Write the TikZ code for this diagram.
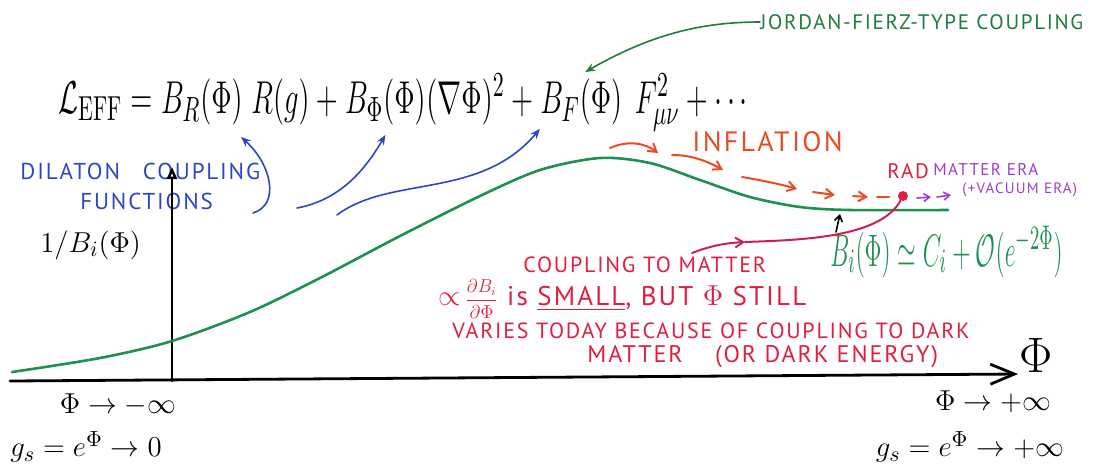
\documentclass[tikz,border=0pt]{standalone}
\usepackage{fontspec}
\usepackage{graphicx}
\usepackage{amssymb}
\newfontfamily\penfont[LetterSpace=8]{PT Sans}
\usetikzlibrary{arrows.meta}
\definecolor{pengreen}{RGB}{30,145,80}
\definecolor{darkgreen}{RGB}{30,125,60}
\definecolor{penblue}{RGB}{45,70,200}
\definecolor{penred}{RGB}{225,30,65}
\definecolor{penorange}{RGB}{235,75,35}
\definecolor{penpurple}{RGB}{155,60,215}
\definecolor{penmagenta}{RGB}{205,30,90}
\newcommand{\tallpen}[2][1.6]{\scalebox{1}[#1]{#2}}

\begin{document}
\begin{tikzpicture}[x=0.5pt, y=-0.5pt, line cap=round]
        \tikzstyle{formula}=[inner sep=0pt, anchor=base west, font=\fontsize{15.5}{18}\selectfont];
        \tikzstyle{note}=[inner sep=0pt, anchor=west, font=\penfont\fontsize{10.5}{13}\selectfont];
        \tikzstyle{limit}=[inner sep=0pt, font=\fontsize{15}{18}\selectfont];
        \tikzstyle{pointer}=[-{Stealth[length=5pt, width=4pt]}, line width=0.8pt];
        \tikzstyle{barb}=[-{Straight Barb[length=4pt, width=5pt]}, line width=1pt];

        \useasboundingbox (0,0) rectangle (1093,468);

        \node[formula] (lag) at (58,113) {\tallpen{$\mathcal{L}_{\mathrm{EFF}}={}$}};
        \node[formula] (BR) at (lag.base east) {\tallpen{$B_R(\Phi)\;$}};
        \node[formula] (Rg) at (BR.base east) {\tallpen{$R(g)+{}$}};
        \node[formula] (BPhi) at (Rg.base east) {\tallpen{$B_\Phi(\Phi)$}};
        \node[formula] (DPhi) at (BPhi.base east) {\tallpen{$(\nabla\Phi)^2+{}$}};
        \node[formula] (BF) at (DPhi.base east) {\tallpen{$B_F(\Phi)\;$}};
        \node[formula, xshift=2pt] (Fmn) at (BF.base east) {\tallpen{$F_{\mu\nu}^2+\cdots$}};

        \node[note, text=darkgreen, font=\penfont\fontsize{10.5}{12}\selectfont] (jf) at (760,22) {JORDAN-FIERZ-TYPE COUPLING};
        \node[note, text=penblue, anchor=north west, align=left, font=\penfont\fontsize{11.5}{15}\selectfont] (dil) at (20,163) {DILATON\quad COUPLING\\\hspace*{30pt}FUNCTIONS};
        \node[limit, anchor=base west] (invB) at (40,252) {$1/B_i(\Phi)$};

        \coordinate (dilbrace) at (253,213);
        \coordinate (blue2) at (297,208);
        \coordinate (blue3) at (337,215);

        \draw[penblue, pointer] (dilbrace) .. controls (280,205) and (272,165) .. ([xshift=-5pt, yshift=-6pt]BR.south east);
        \draw[penblue, pointer] (blue2) .. controls (340,200) and (365,170) .. ([yshift=-5pt]BPhi.south);
        \draw[penblue, pointer] (blue3) .. controls (390,175) and (480,200) .. ([yshift=-2pt]BF.south west);
        \draw[darkgreen, pointer] (jf.west) .. controls (700,22) and (650,35) .. ([yshift=3pt]BF.north);

        \draw[line width=1.4pt, -{Straight Barb[length=12pt, width=10pt]}] (10,381) -- (1018,374);
        \draw[line width=1.2pt, -{Triangle[open, length=6pt, width=5pt]}] (172,381) -- (172,167);
        \node[limit, font=\fontsize{26}{30}\selectfont] (phiaxis) at (1036,355) {$\Phi$};

        \draw[pengreen, line width=1.3pt] plot[smooth] coordinates {(12,372) (100,358) (172,341) (250,312) (320,278) (400,236) (480,196) (540,170) (600,158) (650,163) (700,180) (750,197) (800,207) (850,210) (948,210)};

        \node[note, text=penorange, font=\penfont\fontsize{14}{16}\selectfont] (infl) at (692,142) {INFLATION};
        \draw[penorange, barb] (610,148) .. controls (628,140) and (645,143) .. (658,153);
        \draw[penorange, barb] (672,155) .. controls (690,155) and (705,160) .. (723,170);
        \draw[penorange, barb] (742,177) .. controls (760,180) and (780,184) .. (797,189);
        \draw[penorange, barb] (813,192) -- (835,195);
        \draw[penorange, barb] (853,196) -- (868,197);
        \draw[penorange, line width=1pt] (877,197) -- (889,197);

        \node[circle, fill=penred, inner sep=0pt, minimum size=5pt] (raddot) at (903,196) {};
        \node[note, text=penred, font=\penfont\fontsize{10.5}{12}\selectfont] (rad) at (887,171) {RAD};
        \node[note, text=penpurple, font=\penfont\fontsize{8.5}{10}\selectfont] (era) at (933,169) {MATTER ERA};
        \node[note, text=penpurple, font=\penfont\fontsize{7.5}{9}\selectfont] (vac) at (962,190) {(+VACUUM ERA)};
        \draw[penpurple, -{Straight Barb[length=3pt, width=4pt]}, line width=0.8pt] (917,198) -- (931,197);
        \draw[penpurple, -{Straight Barb[length=3pt, width=4pt]}, line width=0.8pt] (937,197) -- (951,195);

        \node[formula, text=pengreen, font=\fontsize{12.5}{15}\selectfont] (Bi) at (830,266) {\tallpen[1.9]{$B_i(\Phi)\simeq C_i+\mathcal{O}(e^{-2\Phi})$}};
        \draw[line width=0.8pt, -{Straight Barb[length=3pt, width=4pt]}] (836,232) -- (840,214);

        \node[note, text=penred, font=\penfont\fontsize{11}{13}\selectfont] (ctm) at (523,265) {COUPLING TO MATTER};
        \draw[penmagenta, barb] (692,253) .. controls (710,246) and (725,243) .. (745,242);
        \draw[penmagenta, line width=1pt] (745,242) .. controls (800,240) and (880,238) .. (raddot);

        \node[note, text=penred, font=\penfont\fontsize{13.5}{15}\selectfont] (small) at (438,299) {$\propto$\,\scalebox{0.65}{$\displaystyle\frac{\partial B_i}{\partial\Phi}$}\ is \underline{SMALL}, BUT $\Phi$ STILL};
        \node[note, text=penred, font=\penfont\fontsize{11}{13}\selectfont] (varies) at (452,331) {VARIES TODAY BECAUSE OF COUPLING TO DARK};
        \node[note, text=penred, font=\penfont\fontsize{12}{14}\selectfont] (darkm) at (587,357) {MATTER\quad\ (OR DARK ENERGY)};

        \node[limit] (minf) at (118,405) {$\Phi\to-\infty$};
        \node[limit] (gzero) at (86,447) {$g_s=e^{\Phi}\to 0$};
        \node[limit] (pinf) at (993,402) {$\Phi\to+\infty$};
        \node[limit] (ginf) at (970,447) {$g_s=e^{\Phi}\to+\infty$};
    \end{tikzpicture}
\end{document}
